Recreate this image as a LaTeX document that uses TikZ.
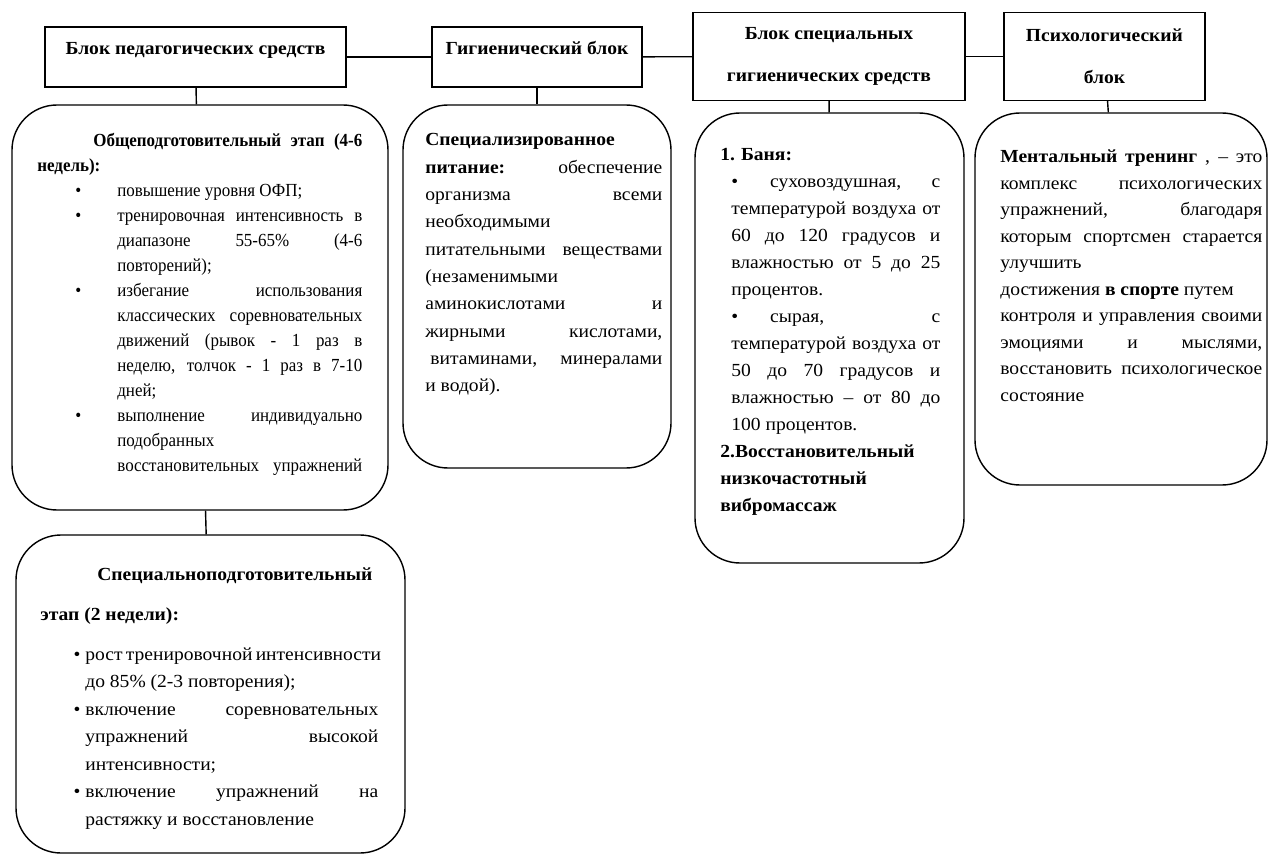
\documentclass[tikz,border=0pt]{standalone}
\usepackage{fontspec}
\setmainfont{Liberation Serif}[FakeStretch=1.06]
\newfontfamily\narrowserif{Liberation Serif}[FakeStretch=0.92]
\newlength{\px}
\setlength{\px}{0.02cm}
\hbadness=10000 \hfuzz=30pt
% lines of a text block: \jl justified, \rl ragged, [indent in px]
\newcommand{\jl}[2][0]{\hbox to\hsize{\hskip#1\px #2}}
\newcommand{\rl}[2][0]{\hbox to\hsize{\hskip#1\px #2\hfil}}
\newcommand{\bu}[2]{\hbox to#1\px{\hfil\textbullet\hskip#2\px}}
\newcommand{\blk}[3]{\vtop{\hsize=#1\px\baselineskip=#2\px\lineskiplimit=-\maxdimen #3}}

\begin{document}
\begin{tikzpicture}[x=0.02cm, y=-0.02cm,
  hdr/.style = {draw, line width=0.8pt, inner sep=0pt, align=center, font=\fontsize{10.5}{12}\selectfont\bfseries},
  rbox/.style = {draw, line width=0.8pt, rounded corners=0.9cm, inner sep=0pt},
  txt/.style = {anchor=base west, inner sep=0pt, font=\fontsize{10.5}{12}\selectfont}]
\useasboundingbox (0,0) rectangle (1272,855);

% blocks
\node[hdr, minimum width=301\px, minimum height=60\px, text height=11\px, text depth=15\px] (1) at (195.5,57) {Блок педагогических средств};
\node[hdr, minimum width=210\px, minimum height=60\px, text height=11\px, text depth=15\px] (2) at (537,57) {Гигиенический блок};
\node[hdr, minimum width=272\px, minimum height=88\px] (3) at (829,56.5) {Блок специальных\\[21\px]гигиенических средств};
\node[hdr, minimum width=201\px, minimum height=88\px] (4) at (1104.5,56.5) {Психологический\\[21\px]блок};

\node[rbox, minimum width=376\px, minimum height=405\px] (5) at (200,307.5) {};
\node[rbox, minimum width=389\px, minimum height=318\px] (6) at (210.5,694) {};
\node[rbox, minimum width=268\px, minimum height=363\px] (7) at (537,286.5) {};
\node[rbox, minimum width=269\px, minimum height=450\px] (8) at (829.5,338) {};
\node[rbox, minimum width=292\px, minimum height=372\px] (9) at (1121,299) {};

\draw[line width=0.8pt] (1) -- (2);
\draw[line width=0.8pt] (2) -- (3);
\draw[line width=0.8pt] (3) -- (4);
\draw[line width=0.8pt] (1) -- (5);
\draw[line width=0.8pt] (5) -- (6);
\draw[line width=0.8pt] (2) -- (7);
\draw[line width=0.8pt] (3) -- (8);
\draw[line width=0.8pt] (4) -- (9);

% texts
\node[txt] (10) at (37,147) {\narrowserif\blk{325}{25}{%
  \jl[56]{\textbf{Общеподготовительный этап (4-6}}
  \rl{\textbf{недель):}}
  \rl{\bu{80}{36}повышение уровня ОФП;}
  \jl{\bu{80}{36}тренировочная интенсивность в}
  \jl[80]{диапазоне 55-65\% (4-6}
  \rl[80]{повторений);}
  \jl{\bu{80}{36}избегание использования}
  \jl[80]{классических соревновательных}
  \jl[80]{движений (рывок - 1 раз в}
  \jl[80]{неделю, толчок - 1 раз в 7-10}
  \rl[80]{дней;}
  \jl{\bu{80}{36}выполнение индивидуально}
  \rl[80]{подобранных}
  \jl[80]{восстановительных упражнений}}};

\node[txt] (11) at (40,580) {\blk{338}{27.5}{%
  \rl[57]{\textbf{Специальноподготовительный}}\vskip12.5\px
  \rl{\textbf{этап (2 недели):}}\vskip12.5\px
  \jl{\bu{45}{5}рост тренировочной интенсивности}
  \rl[45]{до 85\% (2-3 повторения);}
  \jl{\bu{45}{5}включение соревновательных}
  \jl[45]{упражнений высокой}
  \rl[45]{интенсивности;}
  \jl{\bu{45}{5}включение упражнений на}
  \rl[45]{растяжку и восстановление}}};

\node[txt] (12) at (425,146) {\blk{237}{27.3}{%
  \rl{\textbf{Специализированное}}
  \jl{\textbf{питание:} обеспечение}
  \jl{организма всеми}
  \rl{необходимыми}
  \jl{питательными веществами}
  \rl{(незаменимыми}
  \jl{аминокислотами и}
  \jl{жирными кислотами,}
  \jl[5]{витаминами, минералами}
  \rl{и водой).}}};

\node[txt] (13) at (720,161) {\blk{220}{27}{%
  \rl{\textbf{1.\hskip6\px Баня:}}
  \jl[11]{\textbullet\hskip32\px суховоздушная, с}
  \jl[11]{температурой воздуха от}
  \jl[11]{60 до 120 градусов и}
  \jl[11]{влажностью от 5 до 25}
  \rl[11]{процентов.}
  \jl[11]{\textbullet\hskip32\px сырая, с}
  \jl[11]{температурой воздуха от}
  \jl[11]{50 до 70 градусов и}
  \jl[11]{влажностью – от 80 до}
  \rl[11]{100 процентов.}
  \rl{\textbf{2.Восстановительный}}
  \rl{\textbf{низкочастотный}}
  \rl{\textbf{вибромассаж}}}};

\node[txt] (14) at (1000,163) {\blk{262}{26.5}{%
  \jl{\textbf{Ментальный тренинг} , – это}
  \jl{комплекс психологических}
  \jl{упражнений, благодаря}
  \jl{которым спортсмен старается}
  \rl{улучшить}
  \rl{достижения \textbf{в спорте} путем}
  \jl{контроля и управления своими}
  \jl{эмоциями и мыслями,}
  \jl{восстановить психологическое}
  \rl{состояние}}};
\end{tikzpicture}
\end{document}
